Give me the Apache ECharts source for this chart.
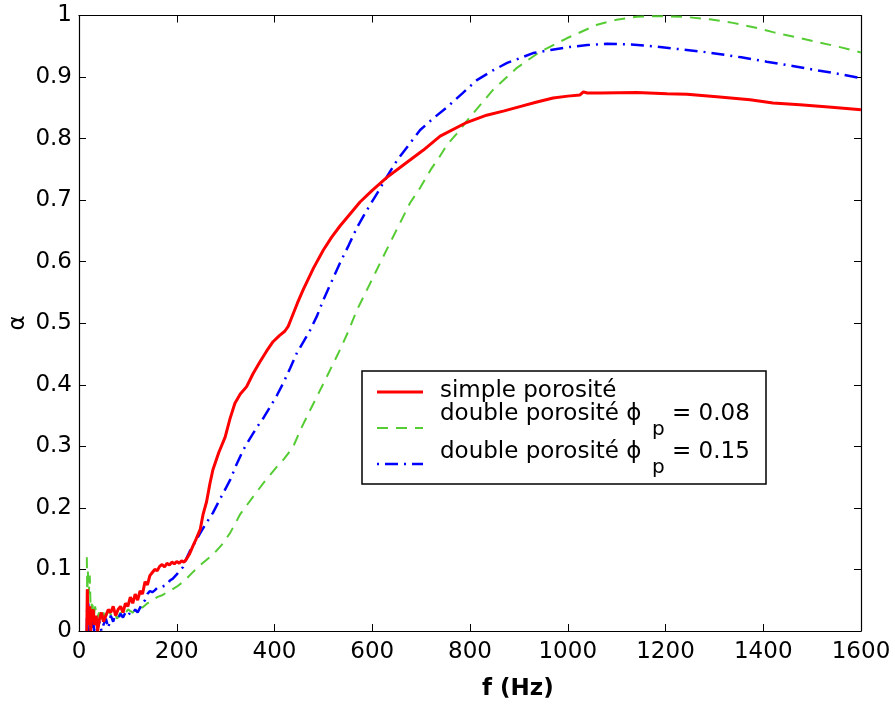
<!DOCTYPE html>
<html>
<head>
<meta charset="utf-8">
<script src="https://cdn.jsdelivr.net/npm/echarts@6/dist/echarts.min.js"></script>
<style>
html,body{margin:0;padding:0;background:#fff;}
#chart{width:895px;height:711px;}
</style>
</head>
<body>
<div id="chart"></div>
<script>
// ---- data ----
var xTicks = [0, 200, 400, 600, 800, 1000, 1200, 1400, 1600];
var yTicks = [0, 0.1, 0.2, 0.3, 0.4, 0.5, 0.6, 0.7, 0.8, 0.9, 1];

var fSimple = [16,17,18,20,22,24,26,29,32,35,38,42,46,50,55,60,65,70,75,80,85,90,95,100,105,110,115,120,125,130,135,140,145,150,155,160,165,170,175,180,185,190,195,200,205,210,215,220,226,233,240,248,254,261,268,274,286,299,309,319,330,343,356,370,384,397,410,421,428,435,447,459,480,500,517,534,555,575,600,630,665,704,739,790,834,870,902,935,970,1000,1025,1032,1040,1066,1141,1203,1244,1305,1373,1420,1475,1540,1600];
var aSimple = [0.0,0.068,0.03,0.01,0.04,0.0,0.025,0.035,0.01,0.025,0.0,0.02,0.03,0.015,0.025,0.035,0.03,0.04,0.025,0.035,0.04,0.03,0.045,0.04,0.055,0.045,0.06,0.05,0.065,0.06,0.08,0.075,0.09,0.095,0.1,0.098,0.105,0.108,0.104,0.11,0.107,0.112,0.109,0.113,0.11,0.114,0.112,0.117,0.125,0.138,0.15,0.165,0.19,0.21,0.24,0.262,0.29,0.315,0.345,0.37,0.385,0.397,0.418,0.437,0.455,0.47,0.48,0.487,0.495,0.509,0.533,0.555,0.59,0.619,0.64,0.658,0.678,0.697,0.716,0.737,0.758,0.781,0.804,0.825,0.838,0.845,0.852,0.859,0.866,0.869,0.871,0.876,0.874,0.874,0.875,0.873,0.872,0.868,0.863,0.858,0.855,0.851,0.847];

var fDouble08 = [16,17,18,20,22,24,27,30,33,37,41,45,50,55,60,66,72,78,85,92,100,110,120,130,140,150,160,170,180,190,200,210,220,231,245,260,275,292,309,330,356,380,405,420,438,455,473,490,507,534,550,569,602,636,660,677,698,720,739,753,773,800,847,896,943,998,1060,1100,1141,1168,1236,1290,1338,1380,1420,1465,1510,1555,1600];
var aDouble08 = [0.12,0.05,0.1,0.06,0.09,0.03,0.05,0.02,0.04,0.02,0.03,0.015,0.03,0.02,0.035,0.025,0.03,0.02,0.03,0.025,0.035,0.03,0.04,0.038,0.045,0.05,0.055,0.058,0.063,0.067,0.072,0.078,0.085,0.094,0.105,0.115,0.125,0.14,0.159,0.19,0.218,0.243,0.267,0.28,0.299,0.33,0.359,0.386,0.413,0.457,0.485,0.522,0.575,0.63,0.668,0.695,0.72,0.75,0.772,0.79,0.808,0.835,0.879,0.915,0.941,0.963,0.985,0.993,0.998,0.999,0.998,0.994,0.988,0.981,0.973,0.965,0.957,0.949,0.94];

var fDouble15 = [16,17,18,19,21,23,25,28,31,34,38,42,46,50,55,60,65,70,75,80,85,90,95,100,105,110,115,120,125,130,135,140,145,150,155,160,170,180,186,192,200,207,213,220,227,233,248,261,274,291,309,322,336,350,364,378,391,405,418,432,446,460,473,487,500,517,534,552,569,590,610,630,651,675,698,725,753,785,814,845,876,900,929,965,1005,1040,1080,1130,1175,1220,1277,1305,1355,1407,1460,1510,1555,1600];
var aDouble15 = [0.0,0.055,0.01,0.045,0.0,0.03,0.005,0.025,0.0,0.02,0.005,0.015,0.0,0.01,0.02,0.005,0.025,0.015,0.03,0.02,0.028,0.022,0.03,0.025,0.03,0.028,0.035,0.03,0.038,0.045,0.05,0.06,0.065,0.063,0.066,0.07,0.072,0.075,0.082,0.085,0.092,0.099,0.104,0.118,0.13,0.138,0.159,0.176,0.192,0.218,0.245,0.27,0.294,0.313,0.331,0.347,0.364,0.383,0.403,0.427,0.452,0.471,0.489,0.512,0.538,0.568,0.598,0.627,0.656,0.685,0.711,0.738,0.765,0.79,0.814,0.833,0.851,0.874,0.895,0.91,0.923,0.93,0.939,0.944,0.949,0.952,0.954,0.953,0.95,0.946,0.941,0.938,0.932,0.925,0.918,0.911,0.905,0.898];

var seriesNames = ['simple porosité', 'double porosité', 'double porosité'];
var subValues = ['= 0.08', '= 0.15'];

function pairs(xs, ys){ return xs.map(function(x,i){ return [x, ys[i]]; }); }

var FONT = 'DejaVu Sans';
var chart = echarts.init(document.getElementById('chart'), null, {renderer:'canvas'});

var axisCommon = {
  type: 'value',
  axisLine: {show: true, onZero: false, lineStyle: {color: '#000', width: 1.2}},
  axisTick: {show: true, inside: true, length: 7, lineStyle: {color: '#000', width: 1}},
  splitLine: {show: false}
};

chart.setOption({
  animation: false,
  backgroundColor: '#fff',
  grid: {left: 79, right: 34, top: 15.5, bottom: 80, containLabel: false},
  xAxis: [
    Object.assign({}, axisCommon, {
      position: 'bottom', min: xTicks[0], max: xTicks[xTicks.length-1], interval: 200,
      axisLabel: {color: '#000', fontFamily: FONT, fontSize: 23, margin: 10,
        formatter: function(v){ return String(Math.round(v)); }}
    }),
    Object.assign({}, axisCommon, {
      position: 'top', min: xTicks[0], max: xTicks[xTicks.length-1], interval: 200,
      axisLabel: {show: false}
    })
  ],
  yAxis: [
    Object.assign({}, axisCommon, {
      position: 'left', min: yTicks[0], max: yTicks[yTicks.length-1], interval: 0.1,
      axisLabel: {color: '#000', fontFamily: FONT, fontSize: 23, margin: 7,
        formatter: function(v){ return String(Math.round(v*10)/10); }}
    }),
    Object.assign({}, axisCommon, {
      position: 'right', min: yTicks[0], max: yTicks[yTicks.length-1], interval: 0.1,
      axisLabel: {show: false}
    })
  ],
  series: [
    {
      name: seriesNames[0], type: 'line', data: pairs(fSimple, aSimple),
      showSymbol: false, symbol: 'none', smooth: false, clip: true,
      lineStyle: {color: '#ff0000', width: 3, type: 'solid'}, z: 3
    },
    {
      name: seriesNames[1] + ' 0.08', type: 'line', data: pairs(fDouble08, aDouble08),
      showSymbol: false, symbol: 'none', smooth: false, clip: true,
      lineStyle: {color: '#55cc33', width: 2, type: [11, 8]}, z: 2
    },
    {
      name: seriesNames[2] + ' 0.15', type: 'line', data: pairs(fDouble15, aDouble15),
      showSymbol: false, symbol: 'none', smooth: false, clip: true,
      lineStyle: {color: '#0000ff', width: 2.5, type: [13, 6, 2, 6]}, z: 2
    }
  ],
  graphic: [
    // axis names
    {type: 'text', left: 482, top: 678, z: 10,
     style: {text: 'f (Hz)', fontFamily: FONT, fontWeight: 'bold', fontSize: 23, fill: '#000'}},
    {type: 'text', x: 18, y: 323, rotation: Math.PI/2, z: 10,
     style: {text: 'α', fontFamily: FONT, fontSize: 23, fill: '#000', align: 'center', verticalAlign: 'middle'}},
    // legend box
    {type: 'rect', shape: {x: 362, y: 371, width: 404, height: 113}, z: 20,
     style: {fill: '#fff', stroke: '#000', lineWidth: 1.5}},
    {type: 'line', shape: {x1: 377, y1: 392, x2: 423, y2: 392}, z: 21,
     style: {stroke: '#ff0000', lineWidth: 3}},
    {type: 'line', shape: {x1: 377, y1: 428, x2: 423, y2: 428}, z: 21,
     style: {stroke: '#55cc33', lineWidth: 2, lineDash: [11, 8]}},
    {type: 'line', shape: {x1: 377, y1: 464, x2: 423, y2: 464}, z: 21,
     style: {stroke: '#0000ff', lineWidth: 2.5, lineDash: [2, 6, 13, 6]}},
    {type: 'text', x: 440, y: 391, z: 21,
     style: {text: seriesNames[0], fontFamily: FONT, fontSize: 23, fill: '#000', verticalAlign: 'middle'}},
    {type: 'text', x: 440, y: 414, z: 21,
     style: {text: seriesNames[1] + ' ϕ', fontFamily: FONT, fontSize: 23, fill: '#000', verticalAlign: 'middle'}},
    {type: 'text', x: 652, y: 430, z: 21,
     style: {text: 'p', fontFamily: FONT, fontSize: 20, fill: '#000', verticalAlign: 'middle'}},
    {type: 'text', x: 672, y: 414, z: 21,
     style: {text: subValues[0], fontFamily: FONT, fontSize: 23, fill: '#000', verticalAlign: 'middle'}},
    {type: 'text', x: 440, y: 452, z: 21,
     style: {text: seriesNames[2] + ' ϕ', fontFamily: FONT, fontSize: 23, fill: '#000', verticalAlign: 'middle'}},
    {type: 'text', x: 652, y: 468, z: 21,
     style: {text: 'p', fontFamily: FONT, fontSize: 20, fill: '#000', verticalAlign: 'middle'}},
    {type: 'text', x: 672, y: 452, z: 21,
     style: {text: subValues[1], fontFamily: FONT, fontSize: 23, fill: '#000', verticalAlign: 'middle'}}
  ]
});
</script>
</body>
</html>
